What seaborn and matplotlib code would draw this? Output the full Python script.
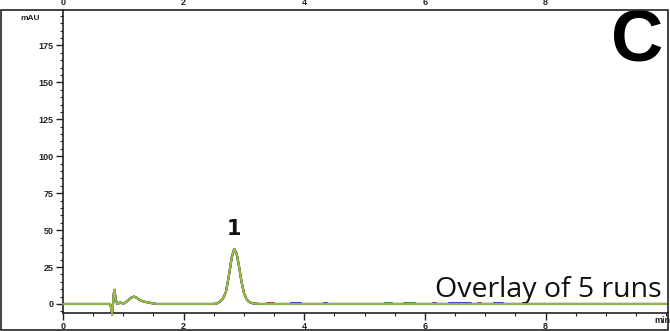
"""
Chromatogram panel C: overlay of 5 runs, peak 1 near 2.85 min.
"""

import numpy as np
import pandas as pd
import matplotlib
matplotlib.use("Agg")
import matplotlib.pyplot as plt
from matplotlib.patches import Rectangle
from matplotlib.ticker import MultipleLocator
import seaborn as sns

# retention time (min) and absorbance (mAU)
time_min = [0.0, 0.78, 0.80, 0.815, 0.83, 0.845, 0.855, 0.87, 0.90, 0.95,
            0.98, 1.02, 1.08, 1.13, 1.18, 1.23, 1.28, 1.35, 1.42, 1.50,
            1.55, 2.50, 2.56, 2.60, 2.65, 2.70, 2.75, 2.80, 2.84, 2.88,
            2.92, 2.96, 3.00, 3.04, 3.08, 3.14, 3.25, 10.0]
signal_mau = [0.0, 0.0, -3.0, -7.0, 0.0, 8.0, 9.6, 4.0, 0.0, 1.0,
              0.5, 0.5, 2.5, 4.2, 5.0, 4.0, 2.5, 1.5, 1.0, 0.3,
              0.0, 0.0, 0.5, 1.5, 3.5, 8.0, 19.0, 32.0, 37.2, 34.0,
              25.0, 15.0, 7.5, 3.5, 1.5, 0.5, 0.0, 0.0]

runs = ["run 1", "run 2", "run 3", "run 4", "run 5"]
run_colors = ["#3b4fc8", "#8a3fa0", "#c4473f", "#2f9a4a", "#9cbb3f"]

# little baseline wiggles from the other runs
blip_run = ["run 3", "run 1", "run 2", "run 1", "run 4", "run 4", "run 2", "run 1", "run 3", "run 1"]
blip_start = [3.39, 3.78, 3.95, 4.33, 5.34, 5.66, 6.14, 6.40, 6.88, 7.15]
blip_end = [3.50, 3.95, 4.17, 4.38, 5.45, 5.84, 6.19, 6.76, 6.93, 7.30]
blip_mau = [0.4, 0.4, 0.3, 0.4, 0.5, 0.5, 0.4, 0.4, 0.4, 0.4]

xticks = [0, 2, 4, 6, 8]
peak_label = "1"
peak_time = 2.84
peak_label_mau = 51

df = pd.DataFrame({
    "time": np.tile(time_min, len(runs)),
    "mAU": np.tile(signal_mau, len(runs)),
    "run": np.repeat(runs, len(time_min)),
})

sns.set_style("white")
plt.rcParams["font.family"] = ["Liberation Sans", "DejaVu Sans"]

fig = plt.figure(figsize=(6.7, 3.31), dpi=100)
ax = fig.add_axes([0.094, 0.0553, 0.903, 0.9145])

# coloured runs underneath, last (green) run on top so edges barely peek out
sns.lineplot(data=df[df["run"] != "run 5"], x="time", y="mAU", hue="run",
             palette=dict(zip(runs, run_colors)), estimator=None,
             linewidth=1.5, legend=False, ax=ax)
for r, s, e, h in zip(blip_run, blip_start, blip_end, blip_mau):
    ax.plot([s, e], [h, h], color=run_colors[runs.index(r)], lw=1.5, zorder=3)
sns.lineplot(data=df[df["run"] == "run 5"], x="time", y="mAU",
             color=run_colors[-1], estimator=None, linewidth=1.3,
             legend=False, ax=ax, zorder=4)
for line in ax.lines:
    line.set_clip_on(False)

ax.set_xlim(0, 10.03)
ax.set_ylim(-5.9, 199)
ax.set_xlabel("")
ax.set_ylabel("")

ax.xaxis.set_major_locator(MultipleLocator(2))
ax.xaxis.set_minor_locator(MultipleLocator(0.5))
ax.yaxis.set_major_locator(MultipleLocator(25))
ax.yaxis.set_minor_locator(MultipleLocator(5))
ax.set_yticks([0, 25, 50, 75, 100, 125, 150, 175])
ax.set_xticks(xticks)
ax.tick_params(axis="both", which="major", direction="out", length=5, width=1,
               color="#222222", labelsize=6.5, labelcolor="#222222", pad=2)
ax.tick_params(axis="both", which="minor", direction="out", length=2.5, width=0.8,
               color="#222222")
ax.tick_params(axis="x", which="both", bottom=True)
ax.tick_params(axis="y", which="both", left=True)
for lbl in ax.get_xticklabels() + ax.get_yticklabels():
    lbl.set_fontweight("bold")

for side in ["top", "right"]:
    ax.spines[side].set_visible(False)
for side in ["left", "bottom"]:
    ax.spines[side].set_color("#222222")
    ax.spines[side].set_linewidth(1.2)

# clipped tick labels of the panel above
top = ax.secondary_xaxis("top")
top.set_xticks(xticks)
top.tick_params(length=0, labelsize=6.5, labelcolor="#222222", pad=2.5)
top.spines["top"].set_visible(False)
for lbl in top.get_xticklabels():
    lbl.set_fontweight("bold")

ax.text(9.93, 206, "min", fontsize=6.5, fontweight="bold", color="#222222",
        ha="center", va="bottom", clip_on=False)
ax.text(9.93, -11.5, "min", fontsize=6.5, fontweight="bold", color="#222222",
        ha="center", va="center", clip_on=False)
ax.text(-0.55, 193, "mAU", fontsize=6, fontweight="bold", color="#222222",
        ha="center", va="center", clip_on=False)

ax.text(peak_time, peak_label_mau, peak_label, fontsize=15, fontweight="bold",
        ha="center", va="center", fontfamily="DejaVu Sans", color="#111111")
ax.text(9.93, 4.9, "Overlay of 5 runs", fontsize=20.5, ha="right", va="baseline",
        fontfamily="Open Sans", color="#111111")
ax.text(9.95, 178, "C", fontsize=52, fontweight="bold", ha="right", va="center",
        fontfamily="Liberation Sans", color="#000000")

# outer frame of the panel
fig.add_artist(Rectangle((0.002, 0.002), 0.995, 0.9685, transform=fig.transFigure,
                         fill=False, edgecolor="#222222", linewidth=1.2))

fig.savefig("out.png", dpi=100)
